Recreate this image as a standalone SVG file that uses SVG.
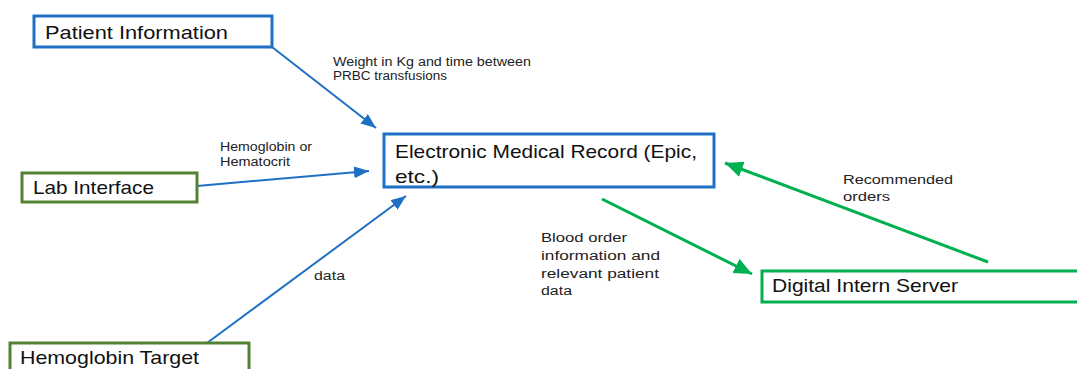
<svg xmlns="http://www.w3.org/2000/svg" width="1077" height="369" viewBox="0 0 1077 369">
<style>
.box{fill:#fff;stroke-width:3}
.blue{stroke:#1f6fc5}
.olive{stroke:#548235}
.green{stroke:#00b050}
.t{font-family:"Liberation Sans",Arial,sans-serif;font-size:19px;fill:#111}
.s{font-family:"Liberation Sans",Arial,sans-serif;font-size:12px;fill:#222}
.cb{stroke:#1f6fc5;stroke-width:2;fill:none}
.cg{stroke:#00b050;stroke-width:3;fill:none}
</style>
<defs>
<marker id="ab" markerUnits="userSpaceOnUse" markerWidth="16" markerHeight="14" refX="15" refY="6" orient="auto"><path d="M0,0 L15,6 L0,12 z" fill="#1f6fc5"/></marker>
<marker id="ag" markerUnits="userSpaceOnUse" markerWidth="20" markerHeight="18" refX="18" refY="8" orient="auto"><path d="M0,0 L18,8 L0,16 z" fill="#00b050"/></marker>
</defs>
<g id="connectors">
<line class="cb" x1="272" y1="47" x2="376" y2="128" marker-end="url(#ab)"/>
<line class="cb" x1="197" y1="186" x2="369" y2="171" marker-end="url(#ab)"/>
<line class="cb" x1="207" y1="343" x2="406" y2="196" marker-end="url(#ab)"/>
<line class="cg" x1="602" y1="199" x2="752" y2="274" marker-end="url(#ag)"/>
<line class="cg" x1="988" y1="262" x2="725" y2="163" marker-end="url(#ag)"/>
<text class="s" x="333" y="66" textLength="198" lengthAdjust="spacingAndGlyphs">Weight in Kg and time between</text>
<text class="s" x="333" y="80" textLength="114" lengthAdjust="spacingAndGlyphs">PRBC transfusions</text>
<text class="s" x="220" y="151" textLength="92" lengthAdjust="spacingAndGlyphs">Hemoglobin or</text>
<text class="s" x="220" y="166" textLength="70" lengthAdjust="spacingAndGlyphs">Hematocrit</text>
<text class="s" x="314" y="280" textLength="31" lengthAdjust="spacingAndGlyphs">data</text>
<text class="s" x="541" y="242" textLength="86" lengthAdjust="spacingAndGlyphs">Blood order</text>
<text class="s" x="541" y="260" textLength="119" lengthAdjust="spacingAndGlyphs">information and</text>
<text class="s" x="541" y="278" textLength="118" lengthAdjust="spacingAndGlyphs">relevant patient</text>
<text class="s" x="541" y="295" textLength="31" lengthAdjust="spacingAndGlyphs">data</text>
<text class="s" x="843" y="184" textLength="110" lengthAdjust="spacingAndGlyphs">Recommended</text>
<text class="s" x="843" y="201" textLength="47" lengthAdjust="spacingAndGlyphs">orders</text>
</g>
<g id="patient-information">
<rect class="box blue" x="34" y="16" width="238" height="31"/>
<text class="t" x="45" y="39" textLength="183" lengthAdjust="spacingAndGlyphs">Patient Information</text>
</g>
<g id="emr">
<rect class="box blue" x="384" y="134" width="330" height="53"/>
<text class="t" x="395" y="158" textLength="302" lengthAdjust="spacingAndGlyphs">Electronic Medical Record (Epic,</text>
<text class="t" x="395" y="183" textLength="44" lengthAdjust="spacingAndGlyphs">etc.)</text>
</g>
<g id="lab-interface">
<rect class="box olive" x="22" y="173" width="175" height="29"/>
<text class="t" x="33" y="194" textLength="121" lengthAdjust="spacingAndGlyphs">Lab Interface</text>
</g>
<g id="hemoglobin-target">
<rect class="box olive" x="10" y="343" width="239" height="40"/>
<text class="t" x="20" y="364" textLength="179" lengthAdjust="spacingAndGlyphs">Hemoglobin Target</text>
</g>
<g id="digital-intern-server">
<rect class="box green" x="762" y="271" width="330" height="31"/>
<text class="t" x="772" y="292" textLength="186" lengthAdjust="spacingAndGlyphs">Digital Intern Server</text>
</g>
</svg>
